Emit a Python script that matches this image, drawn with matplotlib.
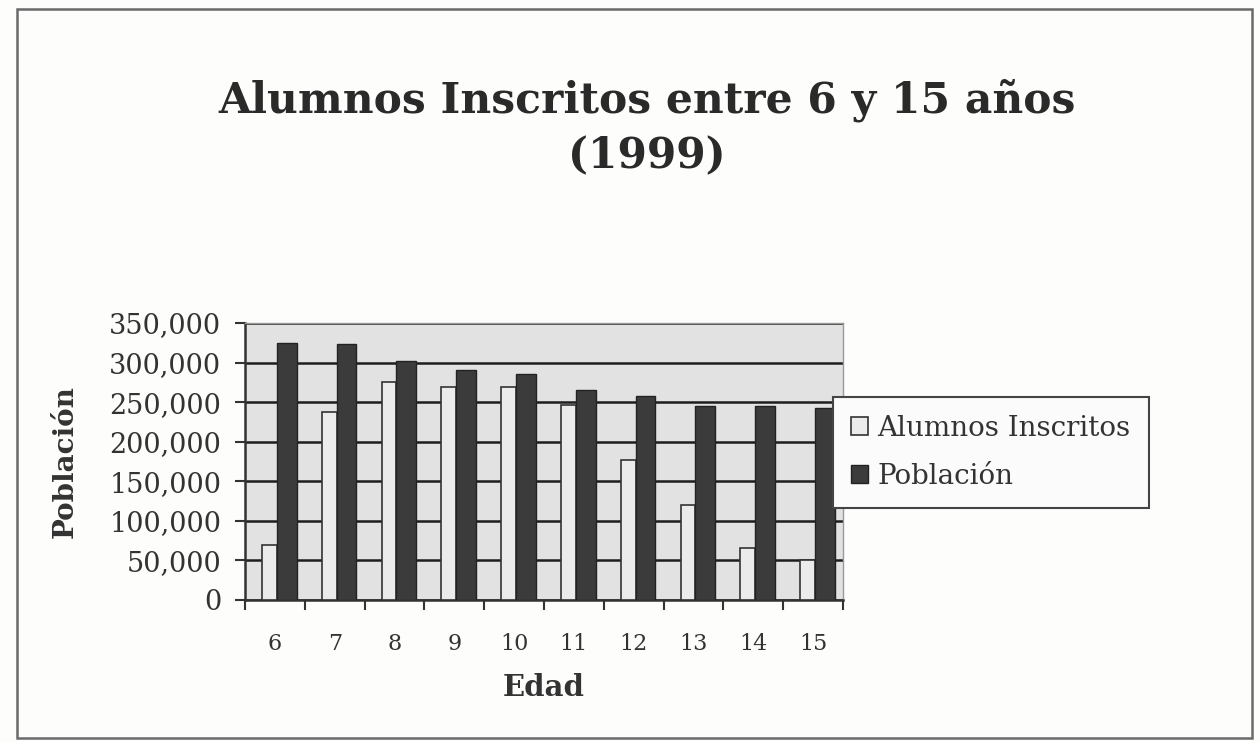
import matplotlib
matplotlib.use("Agg")
import matplotlib.pyplot as plt
from matplotlib.patches import Patch, Rectangle
from matplotlib.ticker import FuncFormatter, FixedLocator
import numpy as np

edades = ["6", "7", "8", "9", "10", "11", "12", "13", "14", "15"]
alumnos_inscritos = [70000, 238000, 276000, 269000, 269000, 247000, 177000, 120000, 66000, 50000]
poblacion = [325000, 323000, 302000, 290000, 285000, 265000, 258000, 245000, 245000, 242000]

title = "Alumnos Inscritos entre 6 y 15 años\n(1999)"
xlabel = "Edad"
ylabel = "Población"
series_names = ["Alumnos Inscritos", "Población"]

W, H = 1260, 742
fig = plt.figure(figsize=(W / 100, H / 100), dpi=100)
fig.patch.set_facecolor("#fdfdfb")

# outer frame
fig.patches.append(Rectangle((17 / W, 1 - 738 / H), (1252 - 17) / W, (738 - 9) / H,
                             transform=fig.transFigure, fill=False,
                             edgecolor="#6a6a6a", linewidth=1.8))

ax = fig.add_axes([245 / W, 1 - 600 / H, (843 - 245) / W, (600 - 323) / H])
ax.set_facecolor("#e2e2e2")

x = np.arange(len(edades))
w_light = 0.25
w_dark = 0.33
ax.bar(x - 0.217, alumnos_inscritos, width=w_light, align="edge",
       color="#ebebeb", edgecolor="#333333", linewidth=1.2, zorder=3)
ax.bar(x + 0.033, poblacion, width=w_dark, align="edge",
       color="#3b3b3b", edgecolor="#222222", linewidth=1.0, zorder=3)

ax.set_xlim(-0.5, len(edades) - 0.5)
ax.set_ylim(0, 350000)
ax.yaxis.set_major_locator(FixedLocator(np.arange(0, 350001, 50000)))
ax.yaxis.set_major_formatter(FuncFormatter(lambda v, p: f"{int(v):,}"))
ax.grid(axis="y", color="#1e1e1e", linewidth=1.8, zorder=1)
ax.set_axisbelow(True)

ax.set_xticks(x)
ax.set_xticklabels(edades)
ax.set_xticks(np.arange(-0.5, len(edades)), minor=True)
ax.tick_params(axis="x", which="major", length=0, pad=24, labelsize=16, colors="#333333")
ax.tick_params(axis="x", which="minor", length=7, width=1.5, color="#333333")
ax.tick_params(axis="y", length=7, width=1.5, color="#333333", labelsize=19.5,
               labelcolor="#333333", pad=10)
for lab in ax.get_xticklabels() + ax.get_yticklabels():
    lab.set_family("DejaVu Serif")

for s in ["left", "bottom"]:
    ax.spines[s].set_color("#333333")
    ax.spines[s].set_linewidth(1.8)
for s in ["top", "right"]:
    ax.spines[s].set_color("#9a9a9a")
    ax.spines[s].set_linewidth(1.0)

ax.set_xlabel(xlabel, family="DejaVu Serif", fontweight="bold", fontsize=21,
              color="#333333", labelpad=13)
ax.set_ylabel(ylabel, family="DejaVu Serif", fontweight="bold", fontsize=20,
              color="#333333", labelpad=22)

fig.text(647 / W, 1 - 128 / H, title, ha="center", va="center",
         family="DejaVu Serif", fontweight="bold", fontsize=30.5,
         color="#2a2a2a", linespacing=1.4)

handles = [Patch(facecolor="#ebebeb", edgecolor="#333333", linewidth=1.2),
           Patch(facecolor="#3b3b3b", edgecolor="#222222", linewidth=1.0)]
leg = fig.legend(handles, series_names, loc="upper left",
                 bbox_to_anchor=(833 / W, 1 - 397 / H), borderaxespad=0,
                 frameon=True, fancybox=False, edgecolor="#444444",
                 facecolor="#fbfbfb", framealpha=1,
                 prop={"family": "DejaVu Serif", "size": 20},
                 handlelength=0.6, handleheight=0.6, handletextpad=0.35,
                 labelspacing=0.75, borderpad=0.65, labelcolor="#333333")
leg.get_frame().set_linewidth(1.5)

fig.savefig("out.png", dpi=100, facecolor=fig.get_facecolor())
